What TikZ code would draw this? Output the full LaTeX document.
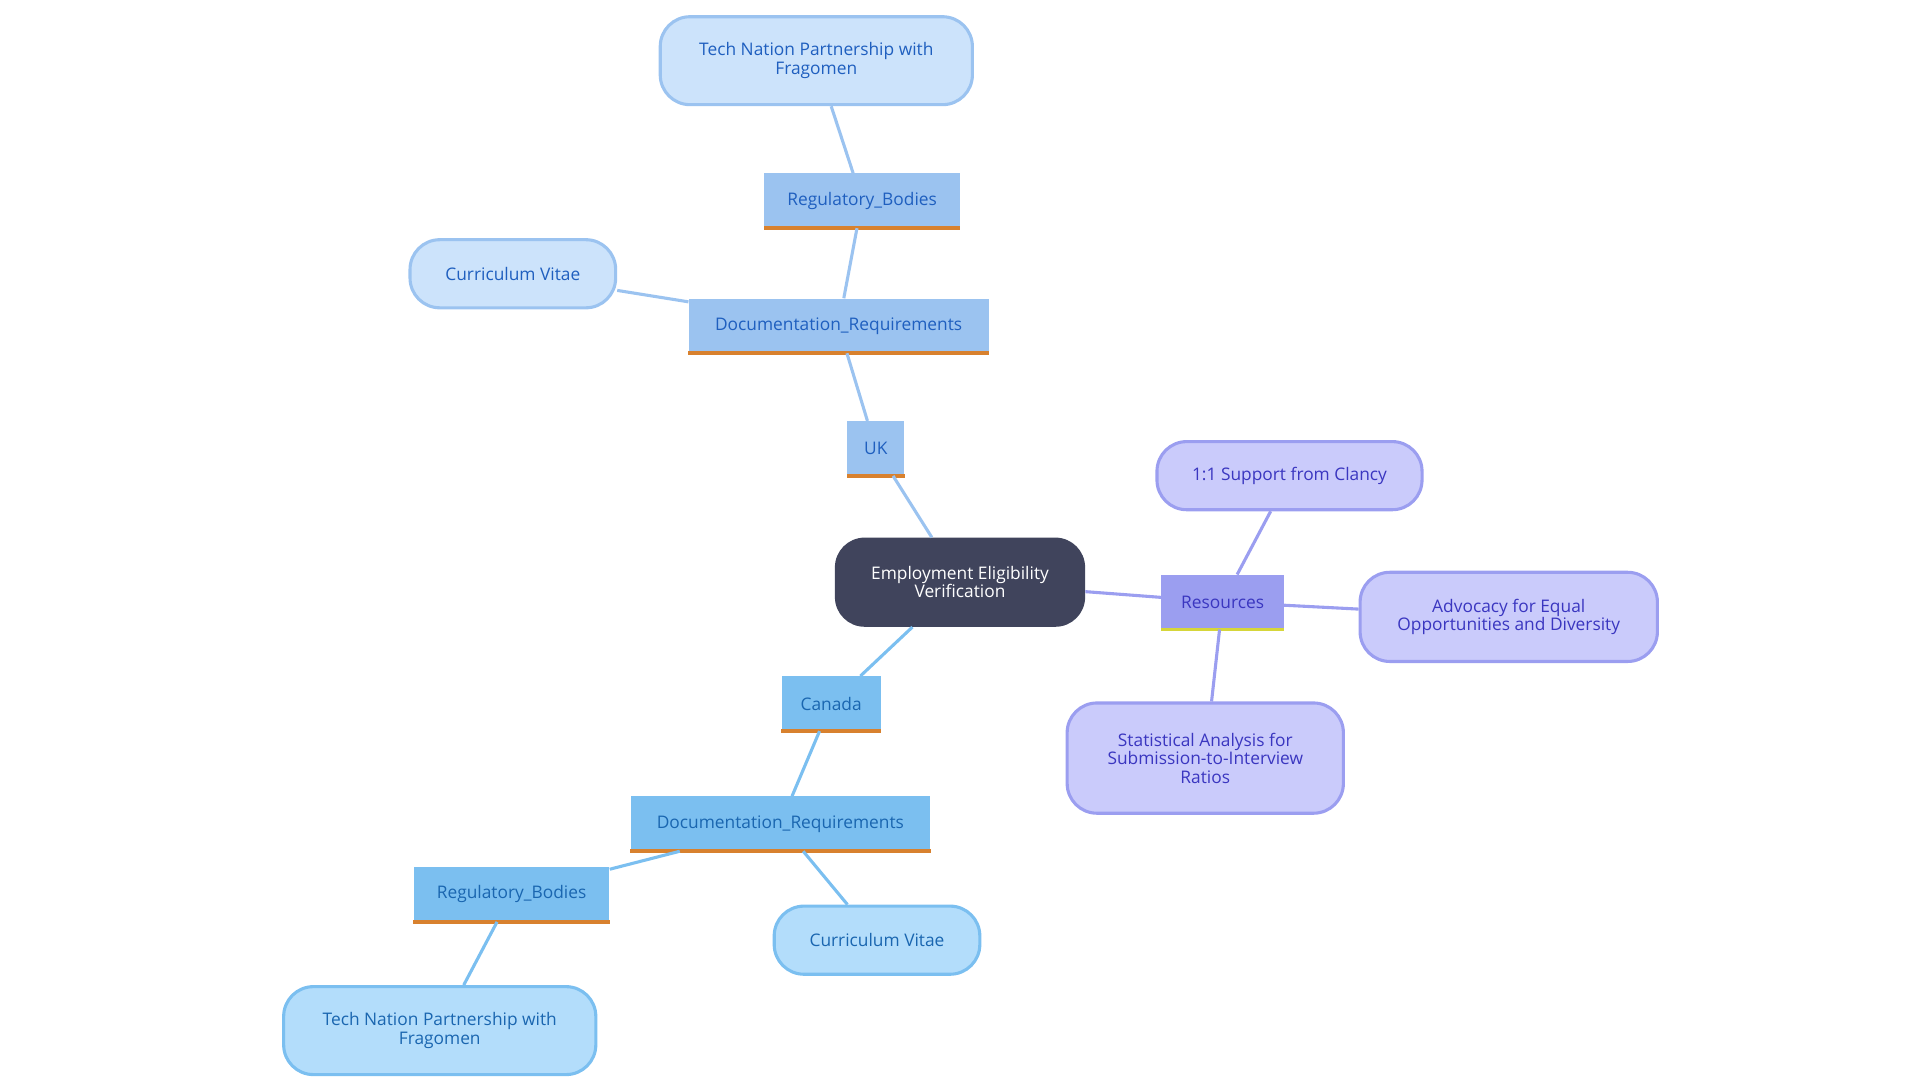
\documentclass[tikz,border=0pt]{standalone}
\usepackage{fontspec}
\setmainfont{Open Sans}
\begin{document}
\begin{tikzpicture}[x=1pt,y=-1pt,
  base/.style={font=\fontsize{14}{15}\selectfont, align=center, inner sep=0pt},
  sq/.style={base, minimum height=44pt},
  rd/.style={base, rounded corners=24pt, line width=2.5pt},
  ukc/.style={fill=uk, text=ukt},
  cac/.style={fill=ca, text=cat},
  rsc/.style={fill=rs, text=rst},
  e/.style={line width=2.5pt}]
\definecolor{uk}{HTML}{9BC3F0}\definecolor{ukt}{HTML}{1F5FBF}\definecolor{ukl}{HTML}{CCE3FB}
\definecolor{ca}{HTML}{7BBFF0}\definecolor{cat}{HTML}{1A66B0}\definecolor{cal}{HTML}{B3DDFB}
\definecolor{rs}{HTML}{9B9EF0}\definecolor{rst}{HTML}{3A36C0}\definecolor{rsl}{HTML}{CACBFB}
\definecolor{or}{HTML}{D8812E}\definecolor{ye}{HTML}{D6D63A}\definecolor{dk}{HTML}{40445C}
\useasboundingbox (0,0) rectangle (1550,872);
% nodes
\node[base, fill=dk, text=white, rounded corners=24pt, minimum width=202pt, minimum height=72pt] (c) at (775,470) {Employment Eligibility\\Verification};
\node[sq,ukc,minimum width=46pt] (uk) at (707,362) {UK};
\node[sq,ukc,minimum width=242pt] (ud) at (677,263) {Documentation\_Requirements};
\node[sq,ukc,minimum width=158pt] (ur) at (696,162) {Regulatory\_Bodies};
\node[rd,fill=ukl,draw=uk,text=ukt,minimum width=252pt,minimum height=71pt] (ut) at (659,49) {Tech Nation Partnership with\\Fragomen};
\node[rd,fill=ukl,draw=uk,text=ukt,minimum width=166pt,minimum height=55pt] (uc) at (414,221) {Curriculum Vitae};
\node[sq,cac,minimum width=80pt] (ca) at (671,568) {Canada};
\node[sq,cac,minimum width=242pt] (cd) at (630,665) {Documentation\_Requirements};
\node[sq,cac,minimum width=158pt] (cr) at (413,722) {Regulatory\_Bodies};
\node[rd,fill=cal,draw=ca,text=cat,minimum width=252pt,minimum height=71pt] (ct) at (355,832) {Tech Nation Partnership with\\Fragomen};
\node[rd,fill=cal,draw=ca,text=cat,minimum width=166pt,minimum height=55pt] (cc) at (708,759) {Curriculum Vitae};
\node[sq,rsc,minimum width=99pt] (rs) at (987,486) {Resources};
\node[rd,fill=rsl,draw=rs,text=rst,minimum width=214pt,minimum height=55pt] (r1) at (1041,384) {1:1 Support from Clancy};
\node[rd,fill=rsl,draw=rs,text=rst,minimum width=240pt,minimum height=72pt] (r2) at (1218,498) {Advocacy for Equal\\Opportunities and Diversity};
\node[rd,fill=rsl,draw=rs,text=rst,minimum width=223pt,minimum height=89pt] (r3) at (973,612) {Statistical Analysis for\\Submission-to-Interview\\Ratios};
% bottom borders
\foreach \n/\cl in {uk/or,ud/or,ur/or,ca/or,cd/or,cr/or,rs/ye}{\draw[\cl,line width=3pt] (\n.south west) -- (\n.south east);}
% edges
\begin{scope}[on background layer/.try]
\end{scope}
\draw[e,uk] (c) -- (uk); \draw[e,uk] (uk) -- (ud); \draw[e,uk] (ud) -- (ur); \draw[e,uk] (ur) -- (ut); \draw[e,uk] (ud) -- (uc);
\draw[e,ca] (c) -- (ca); \draw[e,ca] (ca) -- (cd); \draw[e,ca] (cd.south west) ++(40,0) coordinate (cdx); \draw[e,ca] (cdx) -- (cr); \draw[e,ca] (cr) -- (ct); \draw[e,ca] (cd) -- (cc);
\draw[e,rs] (c) -- (rs); \draw[e,rs] (rs) -- (r1); \draw[e,rs] (rs) -- (r2); \draw[e,rs] (rs) -- (r3);
\end{tikzpicture}
\end{document}
